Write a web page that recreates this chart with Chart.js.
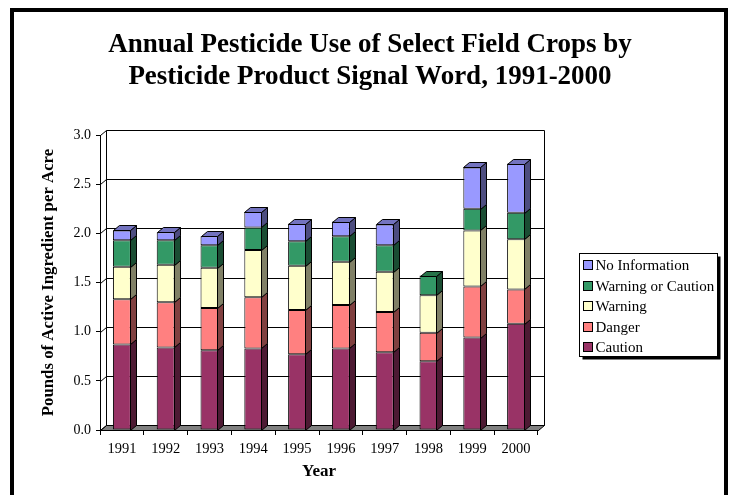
<!DOCTYPE html>
<html>
<head>
<meta charset="utf-8">
<script src="https://cdn.jsdelivr.net/npm/chart.js@4.4.1/dist/chart.umd.min.js"></script>
<style>
  html, body { margin: 0; padding: 0; background: #fff; }
  canvas { display: block; }
</style>
</head>
<body>
<canvas id="chart" width="732" height="495"></canvas>
<script>
// Pounds of active ingredient per acre, by signal word
const years = ['1991', '1992', '1993', '1994', '1995', '1996', '1997', '1998', '1999', '2000'];
const caution       = [0.87, 0.84, 0.81, 0.83, 0.77, 0.83, 0.79, 0.70, 0.94, 1.08];
const danger        = [0.46, 0.46, 0.43, 0.52, 0.45, 0.44, 0.41, 0.29, 0.52, 0.35];
const warning       = [0.33, 0.38, 0.41, 0.48, 0.45, 0.44, 0.41, 0.38, 0.57, 0.51];
const warnOrCaution = [0.27, 0.25, 0.23, 0.23, 0.25, 0.26, 0.27, 0.20, 0.22, 0.27];
const noInfo        = [0.10, 0.08, 0.09, 0.16, 0.18, 0.15, 0.21, 0.00, 0.42, 0.50];
const yTicks = [0, 0.5, 1.0, 1.5, 2.0, 2.5, 3.0];

const SERIF = '"Liberation Serif", "Times New Roman", serif';
const DX = 6, DY = 5; // depth offset of the 3-D box

const datasets = [
  { label: 'Caution',            data: caution,       backgroundColor: '#993366', sideColor: '#4D1A33', topColor: '#73264D' },
  { label: 'Danger',             data: danger,        backgroundColor: '#FF8080', sideColor: '#804040', topColor: '#BF6060' },
  { label: 'Warning',            data: warning,       backgroundColor: '#FFFFCC', sideColor: '#808066', topColor: '#BFBF99' },
  { label: 'Warning or Caution', data: warnOrCaution, backgroundColor: '#339966', sideColor: '#1A4D33', topColor: '#267349' },
  { label: 'No Information',     data: noInfo,        backgroundColor: '#9999FF', sideColor: '#4D4D80', topColor: '#7373BF' }
];

function poly(ctx, pts, fill) {
  ctx.beginPath();
  ctx.moveTo(pts[0][0], pts[0][1]);
  for (let i = 1; i < pts.length; i++) ctx.lineTo(pts[i][0], pts[i][1]);
  ctx.closePath();
  if (fill) { ctx.fillStyle = fill; ctx.fill(); }
  ctx.stroke();
}

// Back wall, side wall and floor of the 3-D plot box, plus bar depth faces
const depthBox = {
  id: 'depthBox',
  beforeDraw(chart) {
    const { ctx, width, height } = chart;
    ctx.save();
    ctx.fillStyle = '#fff';
    ctx.fillRect(0, 0, width, height);
    ctx.restore();
  },
  beforeDatasetsDraw(chart) {
    const { ctx, chartArea: a, scales: { y } } = chart;
    ctx.save();
    ctx.strokeStyle = '#000';
    ctx.lineWidth = 1;
    const L = a.left + 0.5, R = a.right + 0.5;
    const B = Math.round(y.getPixelForValue(0)) + 0.5;
    // floor
    poly(ctx, [[L, B], [R, B], [R + DX, B - DY], [L + DX, B - DY]], '#808080');
    // gridlines on the back wall with their side-wall diagonals
    yTicks.forEach(v => {
      const yy = Math.round(y.getPixelForValue(v)) + 0.5;
      ctx.beginPath();
      ctx.moveTo(L, yy);
      ctx.lineTo(L + DX, yy - DY);
      ctx.lineTo(R + DX, yy - DY);
      ctx.stroke();
    });
    const T = Math.round(y.getPixelForValue(3)) + 0.5;
    ctx.beginPath();
    ctx.moveTo(L + DX, T - DY); ctx.lineTo(L + DX, B - DY);
    ctx.moveTo(R + DX, T - DY); ctx.lineTo(R + DX, B - DY);
    ctx.stroke();
    ctx.restore();
  },
  afterDatasetsDraw(chart) {
    const { ctx } = chart;
    const ds = chart.data.datasets;
    const top = chart.data.labels.map((_, i) => {
      let t = -1;
      ds.forEach((d, di) => { if (d.data[i] > 0) t = di; });
      return t;
    });
    ctx.save();
    ctx.strokeStyle = '#000';
    ctx.lineWidth = 1;
    ds.forEach((d, di) => {
      chart.getDatasetMeta(di).data.forEach((bar, i) => {
        if (!(d.data[i] > 0)) return;
        const p = bar.getProps(['x', 'y', 'base', 'width'], true);
        const l = Math.round(p.x - p.width / 2) + 0.5;
        const r = Math.round(p.x + p.width / 2) - 0.5;
        const yt = Math.round(p.y) + 0.5;
        const yb = Math.round(p.base) + 0.5;
        poly(ctx, [[r, yt], [r + DX, yt - DY], [r + DX, yb - DY], [r, yb]], d.sideColor);
        if (top[i] === di) {
          poly(ctx, [[l, yt], [l + DX, yt - DY], [r + DX, yt - DY], [r, yt]], d.topColor);
        }
      });
    });
    ctx.restore();
  },
  afterDraw(chart) {
    const { ctx } = chart;
    ctx.save();
    // heading
    ctx.fillStyle = '#000';
    ctx.textAlign = 'center';
    ctx.textBaseline = 'middle';
    ctx.font = 'bold 27px ' + SERIF;
    ctx.fillText('Annual Pesticide Use of Select Field Crops by', 370, 45);
    ctx.fillText('Pesticide Product Signal Word, 1991-2000', 370, 77);

    // legend box with drop shadow
    const bx = 579.5, by = 253.5, bw = 138, bh = 103;
    ctx.fillStyle = '#000';
    ctx.fillRect(bx + 3, by + 3, bw, bh);
    ctx.fillStyle = '#fff';
    ctx.fillRect(bx, by, bw, bh);
    ctx.strokeStyle = '#000';
    ctx.lineWidth = 1;
    ctx.strokeRect(bx, by, bw, bh);
    ctx.textAlign = 'left';
    ctx.font = '15px ' + SERIF;
    const ds = chart.data.datasets;
    for (let k = 0; k < ds.length; k++) {
      const d = ds[ds.length - 1 - k];
      const cy = Math.round(265 + k * 20.5);
      ctx.fillStyle = d.backgroundColor;
      ctx.fillRect(bx + 4, cy - 4.5, 9, 9);
      ctx.strokeRect(bx + 4, cy - 4.5, 9, 9);
      ctx.fillStyle = '#000';
      ctx.fillText(d.label, bx + 16, cy + 1);
    }

    // outer frame
    ctx.lineWidth = 4;
    ctx.strokeRect(12, 10, 714, 500);
    ctx.restore();
  }
};

new Chart(document.getElementById('chart'), {
  type: 'bar',
  data: { labels: years, datasets },
  options: {
    responsive: false,
    animation: false,
    events: [],
    layout: { padding: { left: 14, right: 194, top: 135, bottom: 5 } },
    datasets: {
      bar: {
        categoryPercentage: 1,
        barPercentage: 0.41,
        borderColor: '#000',
        borderWidth: 1,
        borderSkipped: false
      }
    },
    plugins: {
      legend: { display: false },
      title: { display: false },
      tooltip: { enabled: false }
    },
    scales: {
      x: {
        stacked: true,
        grid: { offset: true, drawOnChartArea: false, drawTicks: true, tickLength: 5, color: '#000' },
        border: { display: true, color: '#000' },
        ticks: { color: '#000', font: { family: SERIF, size: 14.5 }, padding: 5, maxRotation: 0, autoSkip: false },
        title: {
          display: true, text: 'Year', color: '#000',
          font: { family: SERIF, size: 17, weight: 'bold' },
          padding: { top: 0, bottom: 8 }
        },
        afterFit(s) { s.height = 60; }
      },
      y: {
        stacked: true,
        min: 0,
        max: 3,
        afterBuildTicks(s) { s.ticks = yTicks.map(v => ({ value: v })); },
        ticks: { color: '#000', font: { family: SERIF, size: 14 }, padding: 5, callback: v => Number(v).toFixed(1) },
        grid: { drawOnChartArea: false, drawTicks: true, tickLength: 4, color: '#000' },
        border: { display: true, color: '#000' },
        title: {
          display: true, text: 'Pounds of Active Ingredient per Acre', color: '#000',
          font: { family: SERIF, size: 16.8, weight: 'bold' },
          padding: { top: 25, bottom: 0 }
        },
        afterFit(s) { s.width = 86; }
      }
    }
  },
  plugins: [depthBox]
});
</script>
</body>
</html>
